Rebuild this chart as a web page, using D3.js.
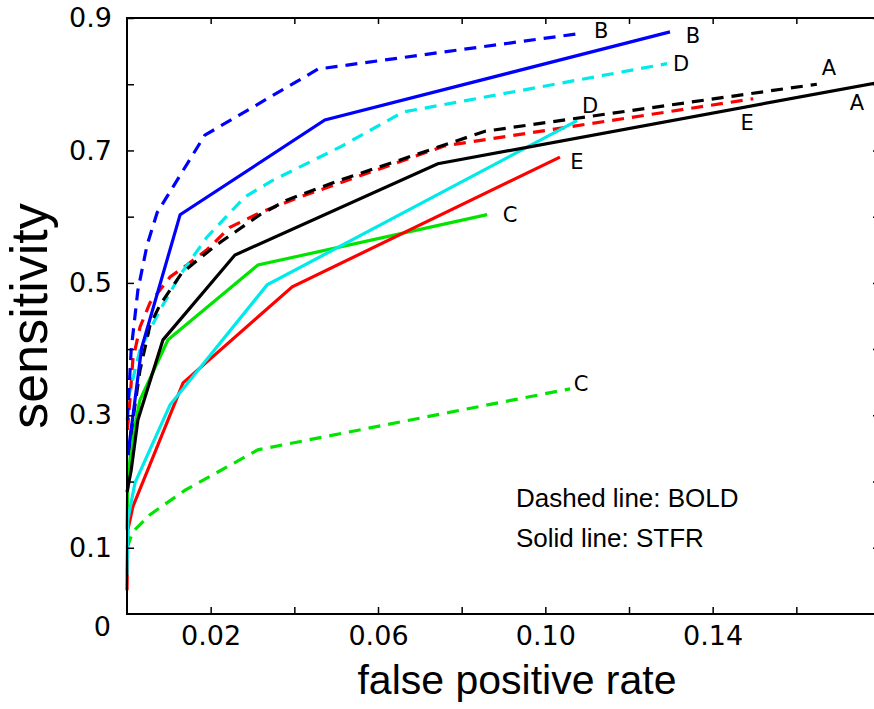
<!DOCTYPE html>
<html>
<head>
<meta charset="utf-8">
<script src="https://cdn.jsdelivr.net/npm/d3@7"></script>
<style>
  html, body { margin: 0; padding: 0; background: #fff; }
  svg { display: block; }
  .tick text { font-family: "DejaVu Sans", sans-serif; font-size: 27px; fill: #000; }
</style>
</head>
<body>
<svg id="chart" width="874" height="709"></svg>
<script>
// ROC operating points: false positive rate / sensitivity for each method (A–E),
// estimated from BOLD signal (dashed) and from STFR signal (solid).
const fprBoldA  = [0.0002, 0.0014, 0.0031, 0.0055, 0.0079, 0.0131, 0.0213, 0.0318, 0.0382, 0.0509, 0.0856, 0.1649];
const sensBoldA = [0.240, 0.293, 0.368, 0.436, 0.467, 0.515, 0.557, 0.603, 0.625, 0.655, 0.729, 0.800];
const fprStfrA  = [0.0, 0.0010, 0.0026, 0.0086, 0.0258, 0.0743, 0.18];
const sensStfrA = [0.184, 0.217, 0.293, 0.414, 0.542, 0.680, 0.803];

const fprBoldB  = [0.0001, 0.0010, 0.0026, 0.0048, 0.0072, 0.0186, 0.0457, 0.1088];
const sensBoldB = [0.293, 0.399, 0.489, 0.557, 0.606, 0.723, 0.823, 0.877];
const fprStfrB  = [0.0002, 0.0014, 0.0035, 0.0127, 0.0473, 0.1298];
const sensStfrB = [0.240, 0.298, 0.402, 0.603, 0.746, 0.879];

const fprBoldC  = [0.0, 0.0014, 0.0055, 0.0139, 0.0313, 0.1059];
const sensBoldC = [0.100, 0.124, 0.150, 0.187, 0.248, 0.340];
const fprStfrC  = [0.0, 0.0002, 0.0012, 0.0031, 0.0098, 0.0313, 0.0861];
const sensStfrC = [0.127, 0.202, 0.263, 0.323, 0.414, 0.527, 0.603];

const fprBoldD  = [0.0002, 0.0031, 0.0079, 0.0127, 0.0191, 0.0282, 0.0349, 0.0509, 0.0660, 0.1291];
const sensBoldD = [0.323, 0.399, 0.459, 0.512, 0.569, 0.630, 0.655, 0.705, 0.758, 0.831];
const fprStfrD  = [0.0, 0.0002, 0.0019, 0.0103, 0.0335, 0.1076];
const sensStfrD = [0.059, 0.142, 0.198, 0.316, 0.497, 0.745];

const fprBoldE  = [0.0001, 0.0007, 0.0014, 0.0031, 0.0055, 0.0103, 0.0143, 0.0191, 0.0246, 0.0318, 0.0406, 0.0509, 0.0760, 0.1497];
const sensBoldE = [0.278, 0.323, 0.384, 0.433, 0.470, 0.509, 0.527, 0.550, 0.584, 0.606, 0.628, 0.651, 0.707, 0.778];
const fprStfrE  = [0.0, 0.0002, 0.0014, 0.0134, 0.0395, 0.1035];
const sensStfrE = [0.036, 0.127, 0.162, 0.349, 0.494, 0.690];

const methodNames = ["A", "B", "C", "D", "E"];
const xTickValues = [0.02, 0.04, 0.06, 0.08, 0.10, 0.12, 0.14, 0.16];
const xTickLabels = ["0.02", "", "0.06", "", "0.10", "", "0.14", ""];
const yTickValues = [0.1, 0.2, 0.3, 0.4, 0.5, 0.6, 0.7, 0.8, 0.9];
const yTickLabels = ["0.1", "", "0.3", "", "0.5", "", "0.7", "", "0.9"];
const originLabel = "0";
const xTitle = "false positive rate";
const yTitle = "sensitivity";
const noteLines = ["Dashed line: BOLD", "Solid line: STFR"];

// Build the series table from the arrays above
const boldData = [[fprBoldA, sensBoldA], [fprBoldB, sensBoldB], [fprBoldC, sensBoldC], [fprBoldD, sensBoldD], [fprBoldE, sensBoldE]];
const stfrData = [[fprStfrA, sensStfrA], [fprStfrB, sensStfrB], [fprStfrC, sensStfrC], [fprStfrD, sensStfrD], [fprStfrE, sensStfrE]];

const colors = { A: "#000000", B: "#0000ff", C: "#00e400", D: "#00eaea", E: "#ff0000" };
// label placement relative to the last point of each curve (pixels)
const boldLabelOffset = { A: [12, -16], B: [19, -2], C: [11, -5], D: [14, 0], E: [-6, 24] };
const stfrLabelOffset = { A: [-23, 21], B: [23, 4], C: [23, 0], D: [13, -15], E: [17, 5] };

const series = [];
methodNames.forEach((m, i) => {
  series.push({ method: m, kind: "bold", pts: boldData[i][0].map((v, j) => [v, boldData[i][1][j]]) });
  series.push({ method: m, kind: "stfr", pts: stfrData[i][0].map((v, j) => [v, stfrData[i][1][j]]) });
});

const svg = d3.select("#chart");
const plotLeft = 127, plotRight = 880, plotTop = 18, plotBottom = 614;

const x = d3.scaleLinear().domain([0, 0.18]).range([plotLeft, plotRight]);
const y = d3.scaleLinear().domain([0, 0.9]).range([plotBottom, plotTop]);

// Curves
const line = d3.line().x(d => x(d[0])).y(d => y(d[1]));
const order = ["C", "E", "D", "A", "B"];
const drawOrder = series.slice().sort((a, b) => order.indexOf(a.method) - order.indexOf(b.method));

svg.append("g")
  .selectAll("path")
  .data(drawOrder)
  .join("path")
  .attr("d", d => line(d.pts))
  .attr("fill", "none")
  .attr("stroke", d => colors[d.method])
  .attr("stroke-width", 3.2)
  .attr("stroke-dasharray", d => d.kind === "bold" ? "12,8" : null);

// Curve labels at the end of each curve
svg.append("g")
  .selectAll("text")
  .data(series)
  .join("text")
  .attr("x", d => x(d.pts[d.pts.length - 1][0]) + (d.kind === "bold" ? boldLabelOffset : stfrLabelOffset)[d.method][0])
  .attr("y", d => y(d.pts[d.pts.length - 1][1]) + (d.kind === "bold" ? boldLabelOffset : stfrLabelOffset)[d.method][1])
  .attr("text-anchor", "middle")
  .attr("dominant-baseline", "central")
  .attr("font-family", "DejaVu Sans, sans-serif")
  .attr("font-size", 21)
  .text(d => d.method);

// Axes with inward ticks on all four sides
const fmtX = d => xTickLabels[xTickValues.indexOf(d)];
const fmtY = d => yTickLabels[yTickValues.indexOf(d)];

const gB = svg.append("g").attr("transform", `translate(0,${plotBottom})`)
  .call(d3.axisBottom(x).tickValues(xTickValues).tickSize(-7).tickSizeOuter(0).tickPadding(12).tickFormat(fmtX));
const gT = svg.append("g").attr("transform", `translate(0,${plotTop})`)
  .call(d3.axisTop(x).tickValues(xTickValues).tickSize(-6).tickSizeOuter(0).tickFormat(() => ""));
const gL = svg.append("g").attr("transform", `translate(${plotLeft},0)`)
  .call(d3.axisLeft(y).tickValues(yTickValues).tickSize(-7).tickSizeOuter(0).tickPadding(15).tickFormat(fmtY));
const gR = svg.append("g").attr("transform", `translate(${plotRight},0)`)
  .call(d3.axisRight(y).tickValues(yTickValues).tickSize(-7).tickSizeOuter(0).tickFormat(() => ""));

[gB, gT, gL, gR].forEach(g => {
  g.select(".domain").remove();
  g.selectAll(".tick line").attr("stroke", "#000").attr("stroke-width", 1.5);
  g.attr("font-family", null).attr("font-size", null);
});

// Frame
svg.append("rect")
  .attr("x", plotLeft).attr("y", plotTop)
  .attr("width", plotRight - plotLeft).attr("height", plotBottom - plotTop)
  .attr("fill", "none").attr("stroke", "#000").attr("stroke-width", 2);

// Origin label
svg.append("text")
  .attr("x", x(0) - 16).attr("y", y(0) + 22)
  .attr("text-anchor", "end")
  .attr("font-family", "DejaVu Sans, sans-serif")
  .attr("font-size", 27)
  .text(originLabel);

// Axis titles
svg.append("text")
  .attr("x", 517).attr("y", 694)
  .attr("text-anchor", "middle")
  .attr("font-family", "Liberation Sans, Arial, sans-serif")
  .attr("font-size", 41)
  .text(xTitle);

svg.append("text")
  .attr("transform", "translate(47,316) rotate(-90)")
  .attr("text-anchor", "middle")
  .attr("font-family", "Liberation Sans, Arial, sans-serif")
  .attr("font-size", 52)
  .text(yTitle);

// Line style note
svg.append("g")
  .selectAll("text")
  .data(noteLines)
  .join("text")
  .attr("x", 516)
  .attr("y", (d, i) => 507 + i * 40)
  .attr("font-family", "Liberation Sans, Arial, sans-serif")
  .attr("font-size", 26)
  .text(d => d);
</script>
</body>
</html>
